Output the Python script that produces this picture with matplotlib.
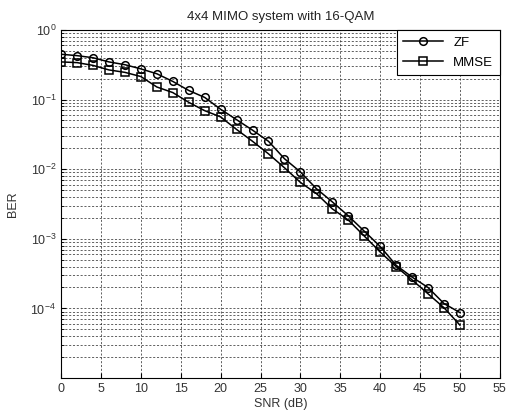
import numpy as np
import matplotlib
matplotlib.use('Agg')
import matplotlib.pyplot as plt

plt.rcParams['font.family'] = ['Liberation Sans', 'DejaVu Sans']

snr = [0, 2, 4, 6, 8, 10, 12, 14, 16, 18, 20, 22, 24, 26, 28, 30, 32, 34, 36, 38, 40, 42, 44, 46, 48, 50]
# BER (log10 values)
zf_log = [-0.35, -0.37, -0.40, -0.46, -0.50, -0.56, -0.63, -0.74, -0.87, -0.97, -1.14, -1.29, -1.44,
          -1.60, -1.85, -2.04, -2.28, -2.47, -2.67, -2.89, -3.11, -3.38, -3.55, -3.70, -3.93, -4.06]
mmse_log = [-0.46, -0.47, -0.51, -0.575, -0.61, -0.67, -0.82, -0.90, -1.04, -1.16, -1.25, -1.43, -1.60,
            -1.78, -1.98, -2.19, -2.35, -2.57, -2.73, -2.96, -3.19, -3.40, -3.59, -3.79, -3.99, -4.24]
zf = 10 ** np.array(zf_log)
mmse = 10 ** np.array(mmse_log)

fig = plt.figure(figsize=(5.09, 4.15), dpi=100)
ax = fig.add_axes([0.12, 0.089, 0.862, 0.839])

ax.semilogy(snr, zf, '-o', color='k', lw=1.1, ms=5.5, mfc='none', mew=1.1, label='ZF')
ax.semilogy(snr, mmse, '-s', color='k', lw=1.1, ms=6, mfc='none', mew=1.1, label='MMSE')

ax.set_xlim(0, 55)
ax.set_ylim(1e-5, 1)
ax.set_xticks(np.arange(0, 56, 5))
ax.set_yticks([1e-4, 1e-3, 1e-2, 1e-1, 1e0])
ax.grid(True, which='major', color='#222222', ls=(0, (3, 2.5)), lw=0.5)
ax.grid(True, which='minor', axis='y', color='#222222', ls=(0, (3, 2.5)), lw=0.5)
ax.tick_params(which='both', direction='in', labelsize=9, labelcolor='#333333')
ax.tick_params(which='minor', length=2)

ax.set_title('4x4 MIMO system with 16-QAM', fontsize=9.5, pad=7, color='#222222')
ax.set_xlabel('SNR (dB)', fontsize=9, labelpad=2, color='#333333')
ax.set_ylabel('BER', fontsize=9, labelpad=8, color='#333333')

leg = ax.legend(loc='upper right', fontsize=9.5, fancybox=False, framealpha=1,
                edgecolor='k', borderaxespad=0.0, handlelength=3.0,
                borderpad=0.5, labelspacing=0.6)
leg.get_frame().set_linewidth(0.8)

fig.savefig('out.png', dpi=100)
